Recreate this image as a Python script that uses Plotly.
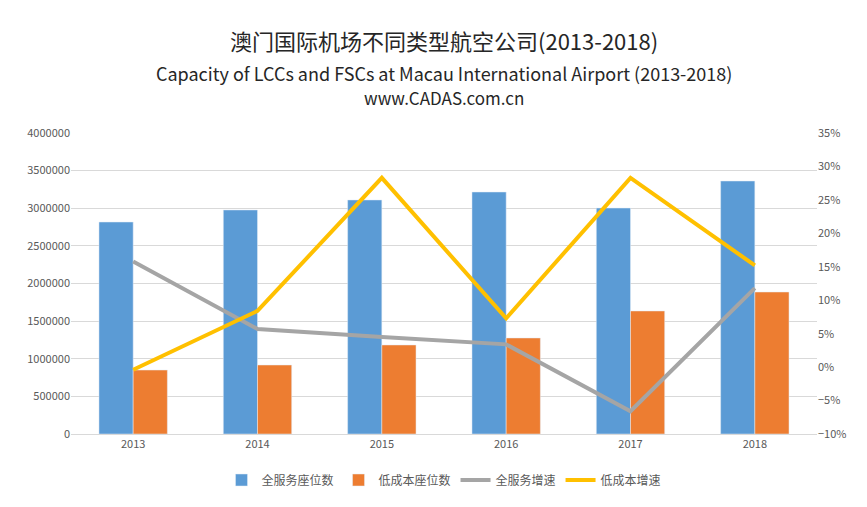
import plotly.graph_objects as go

years = ["2013", "2014", "2015", "2016", "2017", "2018"]
fsc_seats = [2817000, 2977000, 3110000, 3216000, 3003000, 3362000]
lcc_seats = [850000, 917000, 1183000, 1276000, 1635000, 1887000]
fsc_growth = [15.8, 5.7, 4.5, 3.4, -6.6, 11.8]
lcc_growth = [-0.4, 8.4, 28.3, 7.3, 28.3, 15.2]

fig = go.Figure()
fig.add_bar(x=years, y=fsc_seats, name="全服务座位数", marker_color="#5B9BD5")
fig.add_bar(x=years, y=lcc_seats, name="低成本座位数", marker_color="#ED7D31")
fig.add_scatter(x=years, y=fsc_growth, name="全服务增速", yaxis="y2", mode="lines",
                line=dict(color="#A5A5A5", width=4))
fig.add_scatter(x=years, y=lcc_growth, name="低成本增速", yaxis="y2", mode="lines",
                line=dict(color="#FFC000", width=4))

TOP, BOT = 125, 426
titles = [("澳门国际机场不同类型航空公司(2013-2018)", 22, 40 - 8),
          ("Capacity of LCCs and FSCs at Macau International Airport (2013-2018)", 18, 73 - 8),
          ("www.CADAS.com.cn", 17, 97 - 8)]
for txt, sz, yy in titles:
    fig.add_annotation(text=txt, xref="paper", yref="paper", x=0.5, xanchor="center",
                       y=(BOT - yy) / (BOT - TOP), yanchor="middle", showarrow=False,
                       font=dict(size=sz, color="#262626"))

fig.update_layout(
    width=867, height=507, paper_bgcolor="white", plot_bgcolor="white",
    font=dict(family="Noto Sans CJK SC, Liberation Sans", color="#595959", size=11),
    margin=dict(l=63, r=58, t=TOP, b=507 - BOT, autoexpand=False),
    bargap=0.45, bargroupgap=0,
    xaxis=dict(showline=True, linecolor="#D9D9D9", ticks=""),
    yaxis=dict(range=[0, 4000000], dtick=500000, gridcolor="#D9D9D9", tickformat="d",
               zeroline=False),
    yaxis2=dict(range=[-10, 35], dtick=5, overlaying="y", side="right", showgrid=False,
                ticksuffix="%", zeroline=False),
    legend=dict(orientation="h", x=0.5, xanchor="center", y=-(472 - BOT) / (BOT - TOP),
                yanchor="middle", font=dict(size=12)),
)
fig.write_html("out.html")
